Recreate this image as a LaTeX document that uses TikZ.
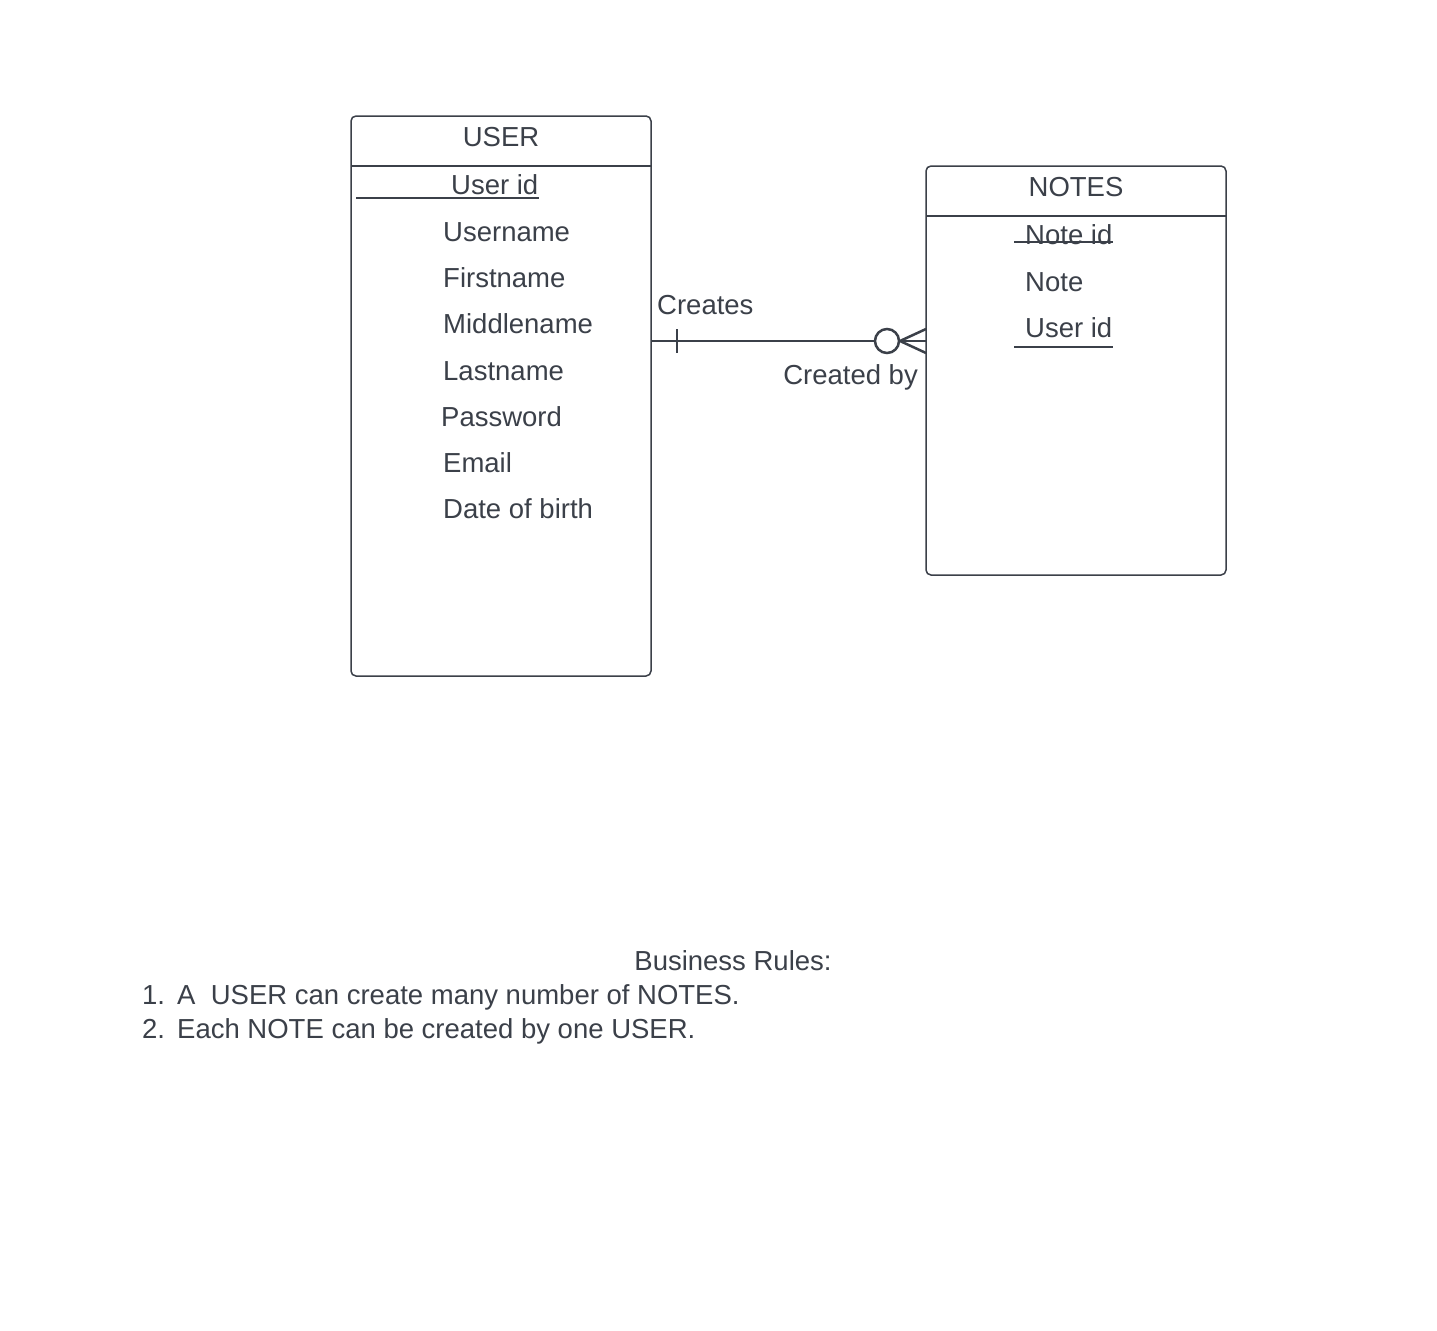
\documentclass[tikz,border=0pt]{standalone}
\usepackage{fontspec}
\setmainfont{Liberation Sans}
\definecolor{ink}{HTML}{3B4049}
\begin{document}
\begin{tikzpicture}[x=1pt,y=-1pt,
  entity/.style={draw=ink,line width=1.5pt,rounded corners=5pt,inner sep=0pt,outer sep=0pt,minimum width=300pt},
  txt/.style={inner sep=0pt,text=ink,font=\fontsize{27.5pt}{33pt}\selectfont,anchor=base west},
  ctxt/.style={inner sep=0pt,text=ink,font=\fontsize{27.5pt}{33pt}\selectfont,anchor=base},
  rel/.style={draw=ink,line width=2.5pt},
  uline/.style={draw=ink,line width=2.2pt}]
\useasboundingbox (0,0) rectangle (1437,1330);
\fill[white] (0,0) rectangle (1437,1330);
% USER entity
\node[entity,minimum height=560pt] (user) at (501,396) {};
\draw[ink,line width=1.5pt] ([yshift=-50pt]user.north west) -- ([yshift=-50pt]user.north east);
\node[ctxt] (usertitle) at (501,146) {USER};
\node[txt] (uid) at (451,194) {User id};
\draw[uline] (356,198) -- (539,198);
\node[txt] (uname) at (443,241) {Username};
\node[txt] (fname) at (443,287) {Firstname};
\node[txt] (mname) at (443,333) {Middlename};
\node[txt] (lname) at (443,380) {Lastname};
\node[txt] (pwd) at (441,426) {Password};
\node[txt] (email) at (443,472) {Email};
\node[txt] (dob) at (443,518) {Date of birth};
% NOTES entity
\node[entity,minimum height=409pt] (notes) at (1076,370.5) {};
\draw[ink,line width=1.5pt] ([yshift=-50pt]notes.north west) -- ([yshift=-50pt]notes.north east);
\node[ctxt] (notestitle) at (1076,196) {NOTES};
\node[txt] (nid) at (1025,244) {Note id};
\draw[uline] (1014,242) -- (1113,242);
\node[txt] (note) at (1025,291) {Note};
\node[txt] (nuid) at (1025,337) {User id};
\draw[uline] (1014,347) -- (1113,347);
% relationship
\coordinate (cy) at (0,341);
\draw[rel] (cy -| user.east) -- (875,341);
\draw[rel] (900,341) -- (cy -| notes.west);
\draw[rel] (677,329) -- (677,353);
\draw[rel] (887,341) circle (12);
\draw[rel] (900,341) -- (926,329);
\draw[rel] (900,341) -- (926,353);
\node[txt] (creates) at (657,314) {Creates};
\node[txt,anchor=base east] (createdby) at (918,384) {Created by};
% business rules
\node[ctxt] (brtitle) at (733,970) {Business Rules:};
\node[txt] (r1n) at (142,1004) {1.};
\node[txt] (r1) at (177,1004) {A\ \ USER can create many number of NOTES.};
\node[txt] (r2n) at (142,1038) {2.};
\node[txt] (r2) at (177,1038) {Each NOTE can be created by one USER.};
\end{tikzpicture}
\end{document}
